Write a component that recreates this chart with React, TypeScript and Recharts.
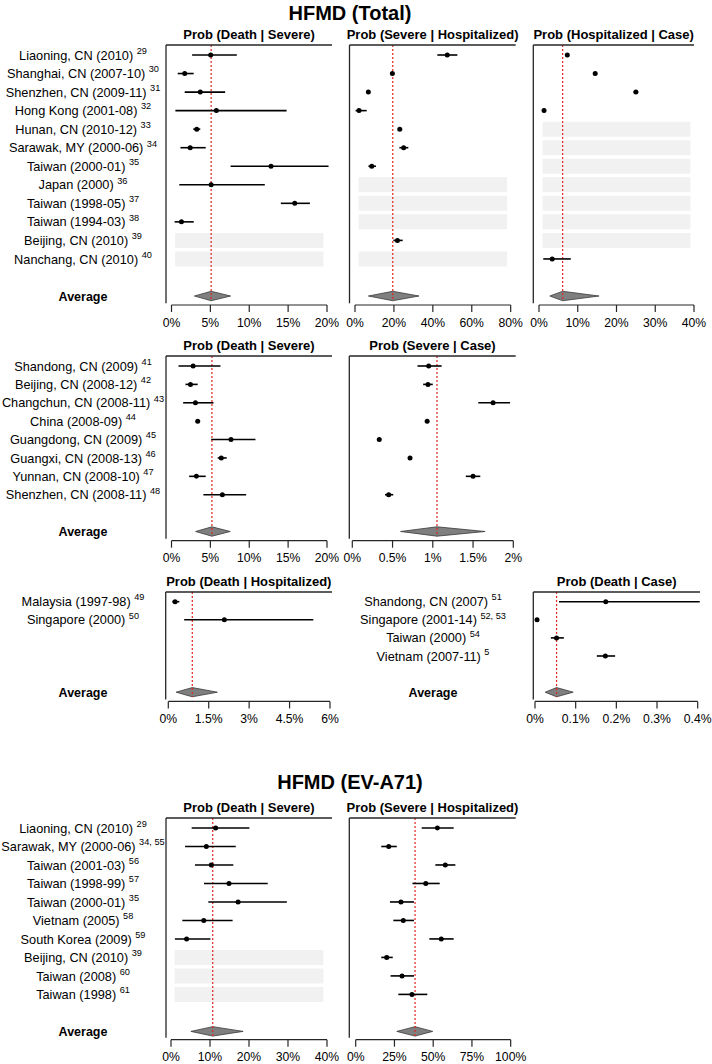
import React from 'react';
import {
  ScatterChart,
  Scatter,
  XAxis,
  YAxis,
  ErrorBar,
  ReferenceLine,
  ReferenceArea,
} from 'recharts';

const FONT = '"Liberation Sans", Arial, Helvetica, sans-serif';

// ---------- labels ----------
const totalLabels = [
  'Liaoning, CN (2010)', 'Shanghai, CN (2007-10)', 'Shenzhen, CN (2009-11)', 'Hong Kong (2001-08)',
  'Hunan, CN (2010-12)', 'Sarawak, MY (2000-06)', 'Taiwan (2000-01)', 'Japan (2000)',
  'Taiwan (1998-05)', 'Taiwan (1994-03)', 'Beijing, CN (2010)', 'Nanchang, CN (2010)',
];
const totalRefs = ['29', '30', '31', '32', '33', '34', '35', '36', '37', '38', '39', '40'];

const caseLabels = [
  'Shandong, CN (2009)', 'Beijing, CN (2008-12)', 'Changchun, CN (2008-11)', 'China (2008-09)',
  'Guangdong, CN (2009)', 'Guangxi, CN (2008-13)', 'Yunnan, CN (2008-10)', 'Shenzhen, CN (2008-11)',
];
const caseRefs = ['41', '42', '43', '44', '45', '46', '47', '48'];

const hospLabels = ['Malaysia (1997-98)', 'Singapore (2000)'];
const hospRefs = ['49', '50'];

const deathCaseLabels = ['Shandong, CN (2007)', 'Singapore (2001-14)', 'Taiwan (2000)', 'Vietnam (2007-11)'];
const deathCaseRefs = ['51', '52, 53', '54', '5'];

const evLabels = [
  'Liaoning, CN (2010)', 'Sarawak, MY (2000-06)', 'Taiwan (2001-03)', 'Taiwan (1998-99)',
  'Taiwan (2000-01)', 'Vietnam (2005)', 'South Korea (2009)', 'Beijing, CN (2010)',
  'Taiwan (2008)', 'Taiwan (1998)',
];
const evRefs = ['29', '34, 55', '56', '57', '35', '58', '59', '39', '60', '61'];

// ---------- values: [estimate, lower, upper] in %, null = not reported ----------
type Row = number[] | null;

const totalDeathSevere: Row[] = [
  [5.04, 2.65, 8.4], [1.7, 0.8, 2.85], [3.7, 1.7, 6.9], [5.77, 0.5, 14.8],
  [3.25, 2.8, 3.7], [2.4, 1.15, 4.4], [12.8, 7.6, 20.2], [5.1, 1.0, 12.0],
  [15.85, 14.06, 17.8], [1.28, 0.4, 2.86], null, null,
];
const totalDeathSevereAvg = [5.1, 2.95, 7.6];

const totalSevereHosp: Row[] = [
  [47.4, 42.3, 52.6], [19.2, 18.3, 20.1], [6.85, 6.2, 7.5], [2.06, 0.3, 6.0],
  [23.0, 22.3, 23.7], [25.0, 22.8, 27.4], [8.6, 6.9, 10.8], null,
  null, null, [21.8, 19.7, 24.5], null,
];
const totalSevereHospAvg = [19.4, 6.9, 32.9];

const totalHospCase: Row[] = [
  [7.3, 6.9, 7.7], [14.5, 14.2, 14.8], [25.0, 24.4, 25.6], [1.3, 1.0, 1.6],
  null, null, null, null, null, null, null, [3.4, 1.1, 8.2],
];
const totalHospCaseAvg = [6.1, 2.8, 15.5];

const caseDeathSevere: Row[] = [
  [2.78, 0.9, 6.3], [2.44, 1.8, 3.37], [3.08, 1.5, 5.4], [3.37, 3.2, 3.5],
  [7.65, 5.1, 10.8], [6.4, 5.94, 7.1], [3.2, 2.27, 4.4], [6.54, 4.1, 9.6],
];
const caseDeathSevereAvg = [5.2, 3.1, 7.56];

const caseSevereCase: Row[] = [
  [0.949, 0.81, 1.11], [0.94, 0.88, 1.0], [1.749, 1.565, 1.96], [0.93, 0.91, 0.95],
  [0.335, 0.315, 0.355], [0.717, 0.7, 0.735], [1.5, 1.41, 1.59], [0.452, 0.406, 0.509],
];
const caseSevereCaseAvg = [1.052, 0.6, 1.65];

const hospDeathHosp: Row[] = [[0.25, 0.15, 0.41], [2.08, 0.59, 5.38]];
const hospDeathHospAvg = [0.89, 0.29, 1.82];

const deathCase: Row[] = [
  [0.174, 0.059, 0.405], [0.005, 0.004, 0.006], [0.053, 0.039, 0.071], [0.173, 0.152, 0.197],
];
const deathCaseAvg = [0.053, 0.025, 0.094];

const evDeathSevere: Row[] = [
  [11.45, 5.3, 20.1], [9.06, 3.6, 16.6], [10.34, 6.15, 15.98], [14.87, 8.46, 24.8],
  [17.2, 9.57, 29.7], [8.4, 2.9, 15.8], [4.0, 1.0, 10.1], null, null, null,
];
const evDeathSevereAvg = [10.7, 5.1, 18.5];

const evSevereHosp: Row[] = [
  [52.7, 42.6, 63.2], [21.3, 16.5, 26.5], [57.8, 51.4, 64.3], [45.2, 36.6, 54.2],
  [29.2, 22.1, 37.6], [30.7, 24.3, 37.6], [55.2, 47.5, 63.2], [20.0, 16.5, 23.9],
  [29.9, 22.5, 37.6], [36.3, 27.5, 46.2],
];
const evSevereHospAvg = [38.3, 26.5, 49.7];

// ---------- axis ticks ----------
const ticks20 = [0, 5, 10, 15, 20];
const ticks80 = [0, 20, 40, 60, 80];
const ticks40 = [0, 10, 20, 30, 40];
const ticks2 = [0, 0.5, 1, 1.5, 2];
const ticks6 = [0, 1.5, 3, 4.5, 6];
const ticks04 = [0, 0.1, 0.2, 0.3, 0.4];
const ticks100 = [0, 25, 50, 75, 100];

// ---------- layout ----------
type Sec = { top: number; axis: number; row0: number; step: number; avg: number };
const SEC1: Sec = { top: 45, axis: 305, row0: 55, step: 18.54, avg: 13 };
const SEC2: Sec = { top: 356, axis: 540.7, row0: 366, step: 18.39, avg: 9 };
const SEC3: Sec = { top: 592.3, axis: 701.7, row0: 602, step: 18.1, avg: 5 };
const SEC4: Sec = { top: 818.3, axis: 1040, row0: 828.3, step: 18.49, avg: 11 };

type Cfg = { left: number; right: number; t0: number; tM: number; max: number; ticks: number[] };

const LINE = '#262626';
const LABEL_FS = 12.75;

function RowTick(props: any) {
  const { x, y, payload, labels, refs, avgIdx, center } = props;
  const i = payload.value;
  const cx = x - center;
  if (i === avgIdx) {
    return (
      <text x={cx} y={y + 4.5} textAnchor="middle" fontFamily={FONT} fontSize={12.5} fontWeight="bold" fill="#000">
        Average
      </text>
    );
  }
  return (
    <text x={cx} y={y + 4.6} textAnchor="middle" fontFamily={FONT} fontSize={LABEL_FS} fill="#000">
      <tspan>{labels[i]}</tspan>
      <tspan dx={3.5} dy={-5.8} fontSize={9.2}>
        {refs[i]}
      </tspan>
    </text>
  );
}

const makeDiamond = (frac: number) => (p: any) => {
  const { x, y, width, height } = p;
  const cx = x + width * frac;
  const my = y + height / 2;
  return (
    <polygon
      points={`${x},${my} ${cx},${y} ${x + width},${my} ${cx},${y + height}`}
      fill="#7f7f7f"
      stroke="#3a3a3a"
      strokeWidth={0.8}
    />
  );
};

function Panel(props: {
  sec: Sec;
  cfg: Cfg;
  rows: Row[];
  avg: number[];
  title: string;
  labels?: string[];
  refs?: string[];
  labelStart?: number;
  labelCenter?: number;
}) {
  const { sec, cfg, rows, avg, title, labels, refs } = props;
  const yLo = (sec.top - sec.row0) / sec.step;
  const yHi = (sec.axis - sec.row0) / sec.step;
  const unit = (cfg.tM - cfg.t0) / cfg.max;
  const xLo = -(cfg.t0 - cfg.left) / unit;
  const xHi = cfg.max + (cfg.right - cfg.tM) / unit;
  const hasLabels = !!labels;
  const labelStart = props.labelStart ?? 0;
  const chartLeft = hasLabels ? labelStart : Math.floor(cfg.left - 10);
  const mLeft = hasLabels ? 0 : cfg.left - chartLeft;
  const mRight = 18;
  const chartTop = sec.top - 30;
  const xAxisH = 24;
  const width = cfg.right - chartLeft + mRight;
  const height = sec.axis + xAxisH - chartTop;

  const pts = rows
    .map((r, i) => (r ? { x: r[0], y: i, err: [r[0] - r[1], r[2] - r[0]] } : null))
    .filter(Boolean) as any[];
  const missing = rows.map((r, i) => (r ? -1 : i)).filter((i) => i >= 0);
  const yTicks = hasLabels ? [...labels!.map((_, i) => i), sec.avg] : undefined;
  const frac = (avg[0] - avg[1]) / (avg[2] - avg[1]);
  const dH = 0.255;

  return (
    <div style={{ position: 'absolute', left: chartLeft, top: chartTop }}>
      <ScatterChart
        width={width}
        height={height}
        margin={{ top: 30, right: mRight, bottom: 0, left: mLeft }}
      >
        <XAxis
          type="number"
          dataKey="x"
          domain={[xLo, xHi]}
          allowDataOverflow
          ticks={cfg.ticks}
          interval={0}
          tickFormatter={(v: number) => `${v}%`}
          axisLine={false}
          tickSize={7}
          tickMargin={6}
          height={xAxisH}
          tickLine={{ stroke: LINE, strokeWidth: 1.2 }}
          tick={{ fontSize: 12.2, fill: '#000', fontFamily: FONT }}
        />
        <YAxis
          type="number"
          dataKey="y"
          domain={[yLo, yHi]}
          allowDataOverflow
          reversed
          hide={!hasLabels}
          width={hasLabels ? cfg.left - labelStart : 0}
          ticks={yTicks}
          interval={0}
          axisLine={false}
          tickLine={false}
          tickSize={0}
          tickMargin={0}
          tick={(p: any) => (
            <RowTick
              {...p}
              labels={labels}
              refs={refs}
              avgIdx={sec.avg}
              center={cfg.left - (props.labelCenter ?? 83)}
            />
          )}
        />
        {missing.map((i) => (
          <ReferenceArea
            key={`band-${i}`}
            x1={cfg.max * 0.023}
            x2={cfg.max * 0.977}
            y1={i - 0.405}
            y2={i + 0.405}
            fill="#f1f1f1"
            fillOpacity={1}
            stroke="none"
            ifOverflow="visible"
          />
        ))}
        <ReferenceArea
          x1={avg[1]}
          x2={avg[2]}
          y1={sec.avg - dH}
          y2={sec.avg + dH}
          ifOverflow="visible"
          shape={makeDiamond(frac)}
        />
        <ReferenceLine
          segment={[
            { x: avg[0], y: yLo },
            { x: avg[0], y: sec.avg + dH },
          ]}
          stroke="#e3241f"
          strokeWidth={1.2}
          strokeDasharray="2 2"
          ifOverflow="visible"
        />
        <ReferenceLine
          y={yLo}
          stroke={LINE}
          strokeWidth={1.3}
          ifOverflow="visible"
          label={{
            value: title,
            position: 'top',
            offset: 6,
            fill: '#000',
            fontSize: 13,
            fontWeight: 'bold',
            fontFamily: FONT,
          }}
        />
        <ReferenceLine
          segment={[
            { x: xLo, y: yLo },
            { x: xLo, y: yHi - 0.1 },
          ]}
          stroke={LINE}
          strokeWidth={1.3}
          ifOverflow="visible"
        />
        <ReferenceLine
          segment={[
            { x: 0, y: yHi },
            { x: cfg.max, y: yHi },
          ]}
          stroke={LINE}
          strokeWidth={1.2}
          ifOverflow="visible"
        />
        <Scatter
          data={pts}
          isAnimationActive={false}
          shape={(p: any) => <circle cx={p.cx} cy={p.cy} r={2.5} fill="#000" />}
        >
          <ErrorBar
            dataKey="err"
            direction="x"
            width={0}
            stroke="#000"
            strokeWidth={1.6}
            isAnimationActive={false}
          />
        </Scatter>
      </ScatterChart>
    </div>
  );
}

const titleStyle: React.CSSProperties = {
  position: 'absolute',
  left: 0,
  width: 700,
  textAlign: 'center',
  fontFamily: FONT,
  fontWeight: 'bold',
  fontSize: 20,
  lineHeight: '20px',
  color: '#000',
};

export default function App() {
  return (
    <div
      style={{
        position: 'absolute',
        left: 0,
        top: 0,
        width: 712,
        height: 1064,
        overflow: 'hidden',
        background: '#fff',
      }}
    >
      <div style={{ ...titleStyle, top: 3 }}>HFMD (Total)</div>
      <div style={{ ...titleStyle, top: 772 }}>HFMD (EV-A71)</div>

      {/* Section 1 */}
      <Panel
        sec={SEC1}
        cfg={{ left: 166, right: 332, t0: 171.5, tM: 327, max: 20, ticks: ticks20 }}
        rows={totalDeathSevere}
        avg={totalDeathSevereAvg}
        title="Prob (Death | Severe)"
        labels={totalLabels}
        refs={totalRefs}
      />
      <Panel
        sec={SEC1}
        cfg={{ left: 349.5, right: 515.7, t0: 355, tM: 510.7, max: 80, ticks: ticks80 }}
        rows={totalSevereHosp}
        avg={totalSevereHospAvg}
        title="Prob (Severe | Hospitalized)"
      />
      <Panel
        sec={SEC1}
        cfg={{ left: 533.3, right: 694, t0: 539, tM: 694, max: 40, ticks: ticks40 }}
        rows={totalHospCase}
        avg={totalHospCaseAvg}
        title="Prob (Hospitalized | Case)"
      />

      {/* Section 2 */}
      <Panel
        sec={SEC2}
        cfg={{ left: 166, right: 332, t0: 171.5, tM: 327, max: 20, ticks: ticks20 }}
        rows={caseDeathSevere}
        avg={caseDeathSevereAvg}
        title="Prob (Death | Severe)"
        labels={caseLabels}
        refs={caseRefs}
      />
      <Panel
        sec={SEC2}
        cfg={{ left: 349.3, right: 515.7, t0: 352.3, tM: 513.3, max: 2, ticks: ticks2 }}
        rows={caseSevereCase}
        avg={caseSevereCaseAvg}
        title="Prob (Severe | Case)"
      />

      {/* Section 3 */}
      <Panel
        sec={SEC3}
        cfg={{ left: 165.7, right: 332, t0: 168.3, tM: 330, max: 6, ticks: ticks6 }}
        rows={hospDeathHosp}
        avg={hospDeathHospAvg}
        title="Prob (Death | Hospitalized)"
        labels={hospLabels}
        refs={hospRefs}
      />
      <Panel
        sec={SEC3}
        cfg={{ left: 533.3, right: 700, t0: 535, tM: 697.7, max: 0.4, ticks: ticks04 }}
        rows={deathCase}
        avg={deathCaseAvg}
        title="Prob (Death | Case)"
        labels={deathCaseLabels}
        refs={deathCaseRefs}
        labelStart={333}
        labelCenter={433}
      />

      {/* Section 4 */}
      <Panel
        sec={SEC4}
        cfg={{ left: 166, right: 332, t0: 171, tM: 327, max: 40, ticks: ticks40 }}
        rows={evDeathSevere}
        avg={evDeathSevereAvg}
        title="Prob (Death | Severe)"
        labels={evLabels}
        refs={evRefs}
      />
      <Panel
        sec={SEC4}
        cfg={{ left: 349.3, right: 515.7, t0: 355.7, tM: 510.7, max: 100, ticks: ticks100 }}
        rows={evSevereHosp}
        avg={evSevereHospAvg}
        title="Prob (Severe | Hospitalized)"
      />
    </div>
  );
}
